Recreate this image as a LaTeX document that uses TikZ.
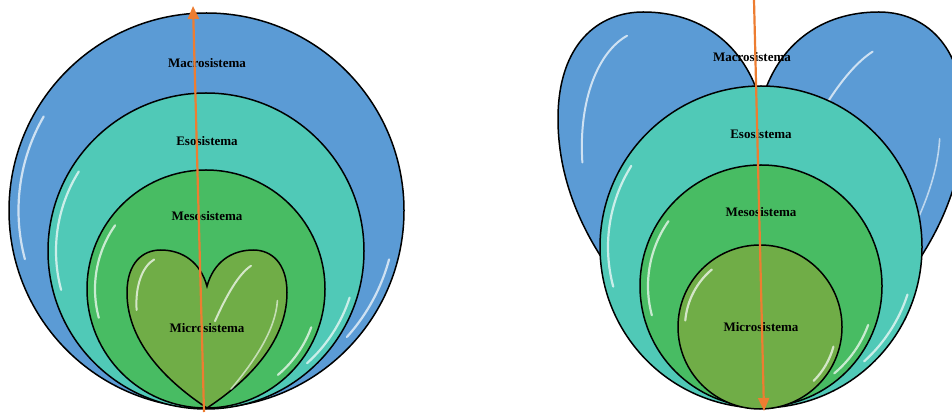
\documentclass[tikz,border=0pt]{standalone}
\usepackage{fontspec}
\setmainfont{Liberation Serif}
\usetikzlibrary{arrows.meta, calc}
\definecolor{macroblue}{HTML}{5B9BD5}
\definecolor{esoteal}{HTML}{50C9B7}
\definecolor{mesogreen}{HTML}{48BC63}
\definecolor{microolive}{HTML}{70AD47}
\definecolor{arroworange}{HTML}{ED7D31}
\tikzset{heart/.pic={
  \path[pic actions] (0,0) .. controls (-0.45,0.15) and (-1,0.4) .. (-1,0.73)
    .. controls (-1,0.92) and (-0.8,1) .. (-0.58,1)
    .. controls (-0.3,1) and (-0.08,0.92) .. (0,0.77)
    .. controls (0.08,0.92) and (0.3,1) .. (0.58,1)
    .. controls (0.8,1) and (1,0.92) .. (1,0.73)
    .. controls (1,0.4) and (0.45,0.15) .. (0,0) -- cycle;
  \draw[white, opacity=0.7, line width=2pt, line cap=round]
    (-0.88,0.62) .. controls (-0.9,0.78) and (-0.8,0.9) .. (-0.66,0.94);
  \draw[white, opacity=0.7, line width=2pt, line cap=round]
    (0.1,0.55) .. controls (0.25,0.72) and (0.4,0.85) .. (0.55,0.9);
  \draw[white, opacity=0.6, line width=1.6pt, line cap=round]
    (0.88,0.68) .. controls (0.86,0.5) and (0.6,0.3) .. (0.3,0.12);
}}

\begin{document}
\begin{tikzpicture}[x=1pt, y=1pt, font=\fontsize{13}{15}\selectfont\bfseries,
  >={Triangle[length=13pt, width=11pt]},
  ring/.style={circle, draw=black, line width=1.5pt, inner sep=0pt},
  lab/.style={inner sep=1pt, text=black},
  flow/.style={->, draw=arroworange, fill=arroworange, line width=2.2pt},
  gloss/.style={draw=white, opacity=0.7, line width=2.2pt, line cap=round}]

  \useasboundingbox (0,0) rectangle (952,412);

  % left: circles around the heart
  \node[ring, fill=macroblue, minimum size=395pt] (macL) at (206.5,201.5) {};
  \draw[gloss] ([shift={(150:188)}]macL.center) arc (150:195:188);
  \draw[gloss] ([shift={(-15:189)}]macL.center) arc (-15:-42:189);
  \node[ring, fill=esoteal, minimum size=316pt] (esoL) at (206,161) {};
  \draw[gloss] ([shift={(148:150)}]esoL.center) arc (148:195:150);
  \draw[gloss] ([shift={(-18:151)}]esoL.center) arc (-18:-48:151);
  \node[ring, fill=mesogreen, minimum size=238pt] (mesL) at (206,123) {};
  \draw[gloss] ([shift={(145:111)}]mesL.center) arc (145:195:111);
  \draw[gloss] ([shift={(-20:112)}]mesL.center) arc (-20:-50:112);
  \pic[draw=black, fill=microolive, line width=1.5pt, xscale=80, yscale=158] (micL) at (207,4) {heart};

  \node[lab] (tmacL) at (207,349) {Macrosistema};
  \node[lab] (tesoL) at (207,271) {Esosistema};
  \node[lab] (tmesL) at (207,196) {Mesosistema};
  \node[lab] (tmicL) at (207,84) {Microsistema};

  \coordinate (upS) at (204,0);
  \coordinate (upE) at (193,406);
  \draw[flow] (upS) -- (upE);

  % right: heart behind the circles
  \pic[draw=black, fill=macroblue, line width=1.5pt, xscale=203, yscale=396] (macR) at (761,4) {heart};
  \node[ring, fill=esoteal, minimum size=322pt] (esoR) at (761,165) {};
  \draw[gloss] ([shift={(148:153)}]esoR.center) arc (148:195:153);
  \draw[gloss] ([shift={(-18:154)}]esoR.center) arc (-18:-48:154);
  \node[ring, fill=mesogreen, minimum size=242pt] (mesR) at (761,126) {};
  \draw[gloss] ([shift={(145:113)}]mesR.center) arc (145:195:113);
  \draw[gloss] ([shift={(-20:114)}]mesR.center) arc (-20:-50:114);
  \node[ring, fill=microolive, minimum size=164pt] (micR) at (760,85) {};
  \draw[gloss] ([shift={(130:75)}]micR.center) arc (130:175:75);
  \draw[gloss] ([shift={(-15:76)}]micR.center) arc (-15:-45:76);

  \node[lab] (tmacR) at (752,355) {Macrosistema};
  \node[lab] (tesoR) at (761,278) {Esosistema};
  \node[lab] (tmesR) at (761,200) {Mesosistema};
  \node[lab] (tmicR) at (761,85) {Microsistema};

  \coordinate (downS) at (754,412);
  \coordinate (downE) at (764,1);
  \draw[flow] (downS) -- (downE);
\end{tikzpicture}
\end{document}
